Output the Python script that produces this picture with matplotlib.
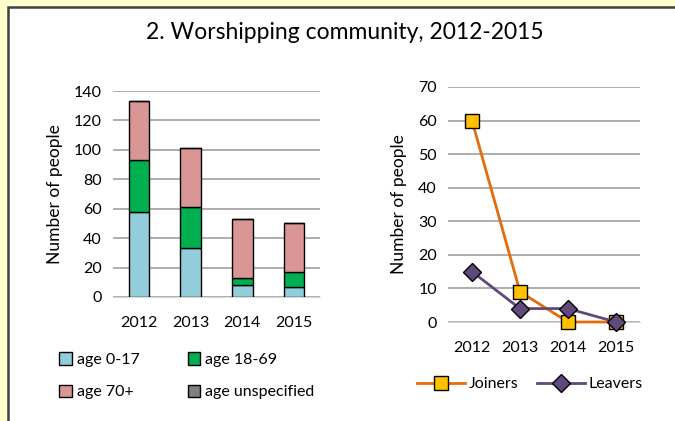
"""Worshipping community chart: age breakdown and joiners/leavers, 2012-2015."""

import numpy as np
import matplotlib.pyplot as plt
from matplotlib.patches import Rectangle
from matplotlib.lines import Line2D

plt.rcParams['font.family'] = ['Lato', 'DejaVu Sans']

years = ['2012', '2013', '2014', '2015']
age_0_17 = [58, 33, 8, 7]
age_18_69 = [35, 28, 5, 10]
age_70_plus = [40, 40, 40, 33]
age_unspecified = [0, 0, 0, 0]

joiners = [60, 9, 0, 0]
leavers = [15, 4, 4, 0]

stack_labels = ['age 0-17', 'age 18-69', 'age 70+', 'age unspecified']
stack_colors = ['#92CDDC', '#00B050', '#D99694', '#808080']

fig = plt.figure(figsize=(6.75, 4.21), dpi=100)
fig.patch.set_facecolor('#FFFFCC')

# white panel with dark border on top/left
panel = Rectangle((8 / 675, -0.1), 1.1, 1 - 7 / 421 + 0.1, transform=fig.transFigure,
                  facecolor='white', edgecolor='#404040', linewidth=1.8, zorder=-5)
fig.patches.append(panel)

fig.text(0.511, 0.922, '2. Worshipping community, 2012-2015', ha='center', va='center',
         fontsize=16.5, color='#000000')

# left: stacked bars
ax1 = fig.add_axes([113 / 675, 1 - 297 / 421, 207 / 675, 206 / 421])
x = np.arange(len(years))
bottom = np.zeros(len(years))
handles = []
for vals, lab, col in zip([age_0_17, age_18_69, age_70_plus, age_unspecified], stack_labels, stack_colors):
    vals = np.array(vals, dtype=float)
    b = ax1.bar(x, vals, 0.4, bottom=bottom, color=col, edgecolor='black', linewidth=1.0,
                label=lab, zorder=3)
    bottom += vals
    handles.append(b)
ax1.set_xlim(-0.5, 3.5)
ax1.set_ylim(0, 140)
ax1.set_yticks(range(0, 141, 20))
ax1.set_xticks(x)
ax1.set_xticklabels(years)
ax1.set_ylabel('Number of people', fontsize=12.5, labelpad=8)

# right: joiners and leavers
ax2 = fig.add_axes([448 / 675, 1 - 322 / 421, 192 / 675, 235 / 421])
ax2.plot(x, joiners, color='#E46C0A', linewidth=2, marker='s', markersize=10,
         markerfacecolor='#FFC000', markeredgecolor='black', markeredgewidth=1,
         label='Joiners', zorder=3, clip_on=False)
ax2.plot(x, leavers, color='#604A7B', linewidth=2, marker='D', markersize=9,
         markerfacecolor='#604A7B', markeredgecolor='black', markeredgewidth=1,
         label='Leavers', zorder=4, clip_on=False)
ax2.set_xlim(-0.5, 3.5)
ax2.set_ylim(0, 70)
ax2.set_yticks(range(0, 71, 10))
ax2.set_xticks(x)
ax2.set_xticklabels(years)
ax2.set_ylabel('Number of people', fontsize=12.5, labelpad=8)

for ax in (ax1, ax2):
    ax.set_facecolor('none')
    for s in ('top', 'right', 'left'):
        ax.spines[s].set_visible(False)
    ax.spines['bottom'].set_color('#D9D9D9')
    ax.grid(axis='y', color='#A0A0A0', linewidth=1.2, zorder=0)
    ax.set_axisbelow(True)
    ax.tick_params(axis='both', length=0, labelsize=11.5, colors='#000000', pad=8)
    ax.tick_params(axis='x', pad=14)

# legend fills column-wise, so order handles to get rows: 0-17 | 18-69, 70+ | unspecified
order = [0, 2, 1, 3]
fig.legend(handles=[handles[i] for i in order], labels=[stack_labels[i] for i in order],
           loc='upper left', bbox_to_anchor=(45 / 675, 1 - 338 / 421), ncol=2, frameon=False,
           fontsize=11.5, handlelength=0.8, handleheight=0.8, handletextpad=0.3,
           columnspacing=3.0, labelspacing=1.1)

line_handles = [Line2D([], [], color='#E46C0A', linewidth=2, marker='s', markersize=10,
                       markerfacecolor='#FFC000', markeredgecolor='black'),
                Line2D([], [], color='#604A7B', linewidth=2, marker='D', markersize=9,
                       markerfacecolor='#604A7B', markeredgecolor='black')]
fig.legend(handles=line_handles, labels=['Joiners', 'Leavers'], loc='center left',
           bbox_to_anchor=(403 / 675, 1 - 384 / 421), ncol=2, frameon=False,
           fontsize=11.5, handlelength=3.0, handletextpad=0.2, columnspacing=1.2)

fig.savefig('out.png', dpi=100, facecolor=fig.get_facecolor())
